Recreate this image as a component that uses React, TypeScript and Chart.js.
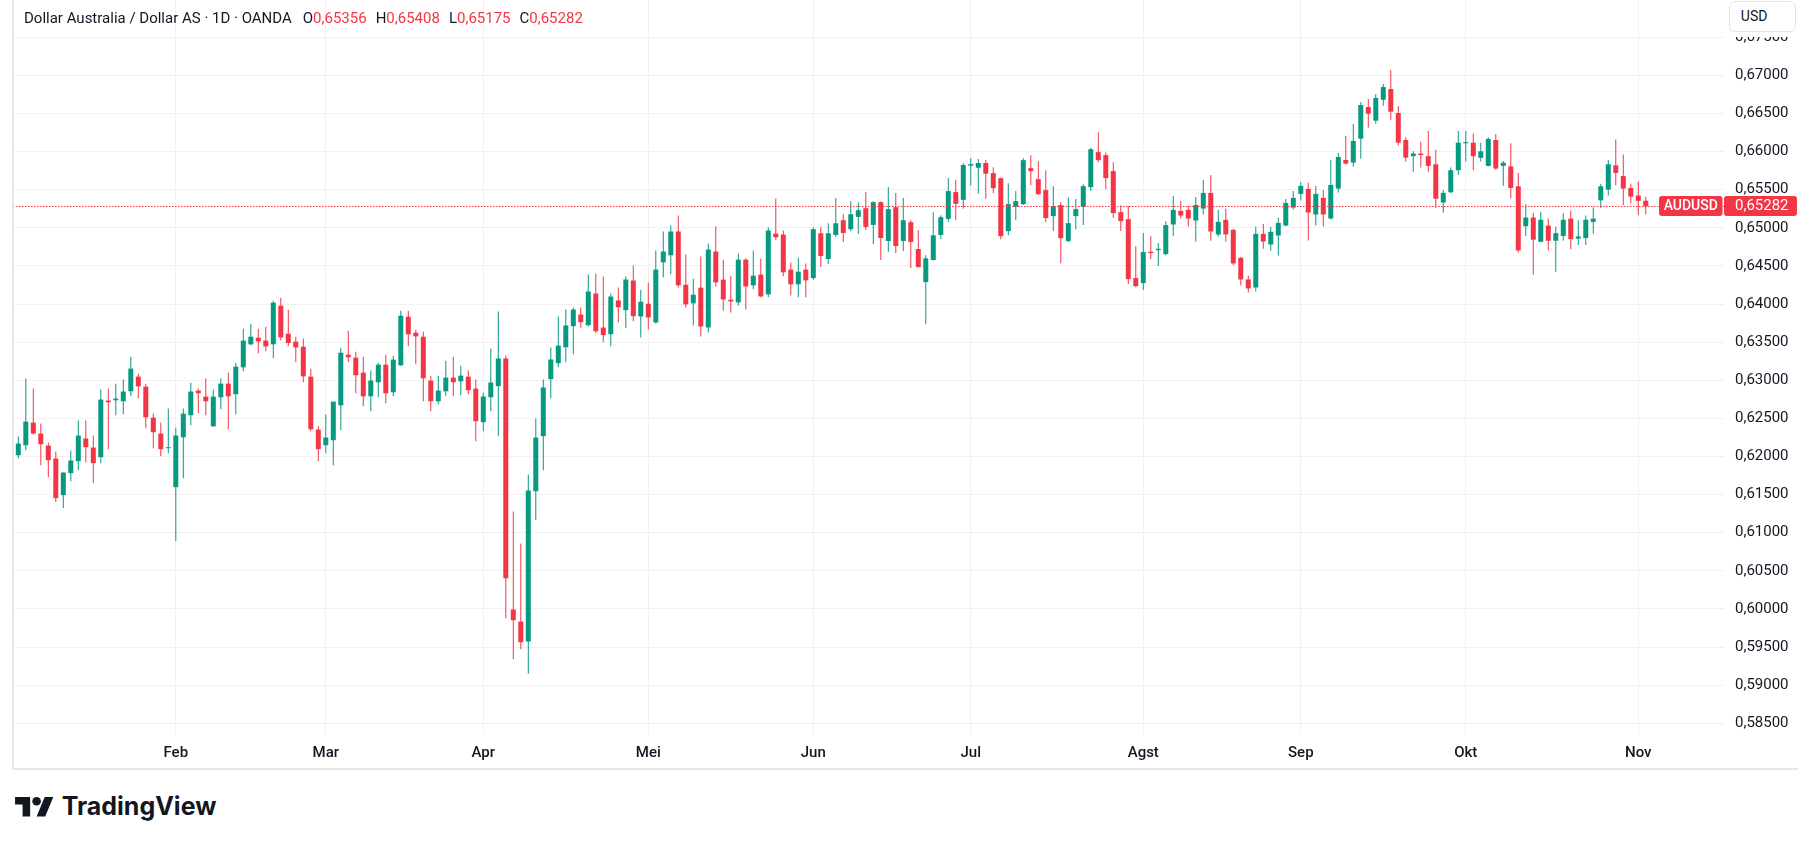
import React, { useEffect, useRef } from 'react';
import { Chart, registerables } from 'chart.js';

Chart.register(...registerables);

const UP = '#089981';
const DOWN = '#F23645';
const TEXT = '#131722';
const GRID = '#f1f1f2';
const BORDER = '#e6e6e8';

// OHLC per trading day: [open, high, low, close]
const jan: number[][] = [
  [0.62017, 0.62262, 0.61978, 0.6217],
  [0.62148, 0.63022, 0.62083, 0.62458],
  [0.62445, 0.62891, 0.62288, 0.62301],
  [0.62301, 0.62432, 0.61886, 0.62162],
  [0.62144, 0.62183, 0.61729, 0.61952],
  [0.61974, 0.62065, 0.61402, 0.61454],
  [0.61493, 0.6179, 0.61323, 0.6179],
  [0.61782, 0.62079, 0.61677, 0.61948],
  [0.61939, 0.62472, 0.61821, 0.62275],
  [0.62236, 0.62472, 0.61926, 0.62122],
  [0.62118, 0.62275, 0.61651, 0.61913],
  [0.61991, 0.62878, 0.61913, 0.62747],
  [0.62734, 0.62891, 0.62096, 0.62712],
  [0.62738, 0.62956, 0.62541, 0.6276],
  [0.62725, 0.63009, 0.62555, 0.62852],
  [0.62856, 0.6331, 0.6279, 0.63153],
  [0.63048, 0.63087, 0.62764, 0.62921],
  [0.62917, 0.62956, 0.62371, 0.62515],
  [0.62511, 0.62563, 0.62109, 0.62319],
  [0.62301, 0.62445, 0.62004, 0.62096],
  [0.62109, 0.62629, 0.62044, 0.62122],
];
const feb: number[][] = [
  [0.61598, 0.62376, 0.60891, 0.62275],
  [0.62253, 0.62629, 0.61716, 0.62563],
  [0.62541, 0.62969, 0.6241, 0.62852],
  [0.62865, 0.62891, 0.62568, 0.6283],
  [0.62786, 0.63022, 0.62541, 0.62725],
  [0.62397, 0.62878, 0.6239, 0.62786],
  [0.62777, 0.63022, 0.6262, 0.62956],
  [0.62956, 0.631, 0.62358, 0.6279],
  [0.62817, 0.63231, 0.62555, 0.63179],
  [0.6317, 0.63677, 0.63118, 0.6352],
  [0.63472, 0.63742, 0.6346, 0.63572],
  [0.63559, 0.63677, 0.63354, 0.63511],
  [0.6352, 0.63703, 0.6338, 0.63445],
  [0.63472, 0.64044, 0.63288, 0.64018],
  [0.63978, 0.64083, 0.63524, 0.63563],
  [0.63611, 0.63926, 0.63445, 0.63489],
  [0.63507, 0.63572, 0.63236, 0.63432],
  [0.63441, 0.63546, 0.62974, 0.63052],
  [0.63048, 0.63153, 0.62332, 0.62358],
  [0.62354, 0.62397, 0.61939, 0.62096],
];
const mar: number[][] = [
  [0.62148, 0.6255, 0.62044, 0.62249],
  [0.62214, 0.6272, 0.61886, 0.6272],
  [0.62672, 0.63428, 0.62345, 0.63362],
  [0.63336, 0.63651, 0.63236, 0.63301],
  [0.63297, 0.63376, 0.6283, 0.63066],
  [0.631, 0.6331, 0.62659, 0.6279],
  [0.6279, 0.63127, 0.62594, 0.62996],
  [0.62974, 0.63231, 0.62777, 0.63205],
  [0.63205, 0.63336, 0.62699, 0.6283],
  [0.62843, 0.63323, 0.6279, 0.63271],
  [0.63197, 0.63913, 0.6319, 0.63847],
  [0.63834, 0.63913, 0.63445, 0.63603],
  [0.63624, 0.63664, 0.6321, 0.63576],
  [0.63572, 0.63638, 0.62725, 0.63026],
  [0.62996, 0.63061, 0.62594, 0.62725],
  [0.62725, 0.63061, 0.62686, 0.62865],
  [0.62856, 0.63258, 0.6279, 0.63035],
  [0.63035, 0.6331, 0.6279, 0.62974],
  [0.62987, 0.63192, 0.62803, 0.63061],
  [0.63048, 0.63127, 0.62817, 0.62869],
  [0.62891, 0.63009, 0.62201, 0.62463],
];
const apr: number[][] = [
  [0.6245, 0.6284, 0.62332, 0.62787],
  [0.62778, 0.63417, 0.62595, 0.62971],
  [0.62923, 0.63902, 0.62267, 0.63286],
  [0.63286, 0.63325, 0.59879, 0.60404],
  [0.59993, 0.61279, 0.59341, 0.59853],
  [0.59835, 0.60859, 0.59473, 0.59564],
  [0.59573, 0.61764, 0.59149, 0.61554],
  [0.61545, 0.62499, 0.61165, 0.62249],
  [0.62267, 0.6301, 0.61821, 0.62905],
  [0.63015, 0.6343, 0.62765, 0.63273],
  [0.63225, 0.63837, 0.63172, 0.63456],
  [0.63434, 0.63929, 0.63238, 0.63719],
  [0.6371, 0.63955, 0.63343, 0.63929],
  [0.63863, 0.63955, 0.63684, 0.63762],
  [0.63723, 0.64388, 0.63706, 0.64165],
  [0.64138, 0.64401, 0.63618, 0.63644],
  [0.63692, 0.64362, 0.635, 0.63592],
  [0.63605, 0.64138, 0.63448, 0.64099],
  [0.64047, 0.64217, 0.63762, 0.63959],
  [0.6392, 0.64362, 0.63684, 0.64322],
  [0.64309, 0.64506, 0.63776, 0.63841],
  [0.63838, 0.64189, 0.63561, 0.64031],
];
const may: number[][] = [
  [0.64004, 0.64281, 0.63667, 0.63825],
  [0.63759, 0.64702, 0.63746, 0.64452],
  [0.64548, 0.64952, 0.64351, 0.64689],
  [0.6464, 0.65031, 0.6439, 0.64952],
  [0.64952, 0.65162, 0.64219, 0.64246],
  [0.64254, 0.64649, 0.63956, 0.63996],
  [0.64009, 0.64333, 0.63719, 0.64123],
  [0.64215, 0.64623, 0.63575, 0.63706],
  [0.63693, 0.64794, 0.63627, 0.64715],
  [0.64689, 0.65018, 0.64232, 0.64285],
  [0.6432, 0.64583, 0.63917, 0.64061],
  [0.64057, 0.64373, 0.6389, 0.64035],
  [0.64022, 0.64662, 0.63982, 0.64583],
  [0.64583, 0.64601, 0.6393, 0.64232],
  [0.64246, 0.64702, 0.64193, 0.64373],
  [0.64386, 0.64596, 0.64088, 0.64101],
  [0.64127, 0.65004, 0.64088, 0.64965],
  [0.64925, 0.65386, 0.64838, 0.64877],
  [0.64912, 0.64965, 0.64364, 0.64417],
  [0.64452, 0.64544, 0.64114, 0.64259],
  [0.64259, 0.6461, 0.64088, 0.64425],
  [0.64452, 0.64531, 0.64088, 0.64311],
];
const jun: number[][] = [
  [0.64341, 0.65008, 0.6432, 0.64982],
  [0.64929, 0.65008, 0.64485, 0.6463],
  [0.64591, 0.6506, 0.64525, 0.64929],
  [0.64907, 0.6539, 0.64881, 0.6506],
  [0.651, 0.65179, 0.64815, 0.64933],
  [0.64982, 0.6535, 0.64955, 0.65179],
  [0.65144, 0.65337, 0.6492, 0.65232],
  [0.65258, 0.65469, 0.64973, 0.65012],
  [0.65039, 0.6535, 0.64788, 0.65337],
  [0.65337, 0.6535, 0.64578, 0.64867],
  [0.64828, 0.65535, 0.64683, 0.65245],
  [0.65271, 0.65456, 0.6467, 0.64762],
  [0.64828, 0.6539, 0.64696, 0.651],
  [0.65074, 0.651, 0.64472, 0.64815],
  [0.64722, 0.64968, 0.6448, 0.64485],
  [0.64288, 0.64639, 0.63735, 0.646],
  [0.64578, 0.65205, 0.6457, 0.64902],
  [0.64907, 0.65166, 0.64854, 0.6514],
  [0.65118, 0.65653, 0.65078, 0.65482],
  [0.65469, 0.65627, 0.65104, 0.65315],
  [0.65368, 0.65851, 0.65249, 0.65824],
];
const jul: number[][] = [
  [0.65816, 0.65917, 0.65552, 0.65837],
  [0.65789, 0.65903, 0.65447, 0.65851],
  [0.65851, 0.6589, 0.65381, 0.6571],
  [0.65718, 0.65796, 0.65455, 0.65521],
  [0.65652, 0.6566, 0.64852, 0.64891],
  [0.64957, 0.65586, 0.64904, 0.65311],
  [0.65276, 0.65482, 0.65101, 0.6535],
  [0.65311, 0.65914, 0.653, 0.65888],
  [0.65783, 0.65954, 0.6556, 0.65744],
  [0.65639, 0.65875, 0.65429, 0.65442],
  [0.65495, 0.65757, 0.65075, 0.65128],
  [0.65154, 0.65547, 0.64957, 0.65285],
  [0.65298, 0.65337, 0.64537, 0.64865],
  [0.64826, 0.65403, 0.64813, 0.65062],
  [0.65154, 0.65377, 0.64983, 0.65245],
  [0.65276, 0.65573, 0.65036, 0.65547],
  [0.65534, 0.6605, 0.65482, 0.66032],
  [0.65993, 0.66255, 0.65862, 0.65888],
  [0.65954, 0.65993, 0.65508, 0.65652],
  [0.65744, 0.65862, 0.65128, 0.65193],
  [0.65206, 0.65298, 0.64957, 0.65088],
  [0.65114, 0.65285, 0.64262, 0.64327],
  [0.64341, 0.6476, 0.6422, 0.64236],
];
const aug: number[][] = [
  [0.64275, 0.64931, 0.64183, 0.64682],
  [0.64686, 0.64891, 0.6459, 0.64669],
  [0.64708, 0.648, 0.64498, 0.64725],
  [0.64655, 0.65088, 0.6464, 0.65036],
  [0.65044, 0.65419, 0.64895, 0.65236],
  [0.65223, 0.65354, 0.65122, 0.65161],
  [0.65236, 0.65288, 0.65017, 0.65122],
  [0.65096, 0.65406, 0.64817, 0.65301],
  [0.65253, 0.65629, 0.65175, 0.65458],
  [0.65458, 0.65694, 0.6483, 0.64952],
  [0.64913, 0.65236, 0.64886, 0.65079],
  [0.65105, 0.65249, 0.64821, 0.64913],
  [0.64974, 0.64987, 0.64506, 0.64533],
  [0.64607, 0.6462, 0.64244, 0.64323],
  [0.64323, 0.64371, 0.64153, 0.64205],
  [0.64218, 0.65013, 0.64166, 0.64921],
  [0.64921, 0.65052, 0.64725, 0.64821],
  [0.64782, 0.65013, 0.64699, 0.64948],
  [0.649, 0.65131, 0.64638, 0.65065],
  [0.65031, 0.6538, 0.6502, 0.65327],
  [0.65266, 0.65485, 0.6524, 0.65393],
];
const sep: number[][] = [
  [0.65445, 0.65603, 0.65358, 0.6555],
  [0.65511, 0.6559, 0.64834, 0.65201],
  [0.65175, 0.6555, 0.65031, 0.65445],
  [0.65393, 0.65498, 0.65017, 0.65175],
  [0.65122, 0.65891, 0.6511, 0.65563],
  [0.65515, 0.65983, 0.65463, 0.6593],
  [0.65891, 0.66205, 0.6583, 0.65843],
  [0.65856, 0.66362, 0.65803, 0.6614],
  [0.6617, 0.66651, 0.65908, 0.66611],
  [0.66585, 0.6669, 0.66314, 0.66498],
  [0.66406, 0.66756, 0.66367, 0.66703],
  [0.66681, 0.66887, 0.66603, 0.66847],
  [0.66821, 0.6707, 0.66419, 0.66524],
  [0.66507, 0.66598, 0.66079, 0.66118],
  [0.66153, 0.66192, 0.65869, 0.65921],
  [0.6594, 0.66004, 0.65735, 0.65975],
  [0.65975, 0.66131, 0.65792, 0.65954],
  [0.6594, 0.66272, 0.65735, 0.65813],
  [0.65834, 0.66025, 0.65262, 0.65382],
  [0.65333, 0.65495, 0.65198, 0.6546],
  [0.65467, 0.65792, 0.65453, 0.65756],
  [0.65756, 0.66272, 0.65693, 0.66117],
];
const oct: number[][] = [
  [0.6611, 0.66272, 0.6587, 0.66125],
  [0.66117, 0.66237, 0.65756, 0.6594],
  [0.65919, 0.66117, 0.6587, 0.66004],
  [0.65813, 0.66187, 0.65806, 0.66166],
  [0.66152, 0.6623, 0.65763, 0.65778],
  [0.65813, 0.65877, 0.65552, 0.65855],
  [0.65806, 0.6611, 0.65389, 0.65523],
  [0.65545, 0.65721, 0.64675, 0.64704],
  [0.65022, 0.65311, 0.64894, 0.65135],
  [0.65135, 0.65198, 0.64386, 0.64845],
  [0.64817, 0.65212, 0.6481, 0.65106],
  [0.65029, 0.65121, 0.64704, 0.64831],
  [0.64831, 0.65015, 0.64421, 0.6493],
  [0.64894, 0.65191, 0.64831, 0.65106],
  [0.65121, 0.65227, 0.64718, 0.64852],
  [0.64859, 0.65099, 0.64774, 0.64887],
  [0.64866, 0.65163, 0.64774, 0.65106],
  [0.65078, 0.65269, 0.64923, 0.65121],
  [0.65361, 0.6558, 0.65262, 0.65545],
  [0.65502, 0.65891, 0.65424, 0.65834],
  [0.6582, 0.66159, 0.65559, 0.65721],
  [0.65679, 0.65961, 0.65297, 0.65516],
  [0.65523, 0.6558, 0.65318, 0.6541],
];
const nov: number[][] = [
  [0.65424, 0.65608, 0.6517, 0.65354],
  [0.65356, 0.65408, 0.65175, 0.65282],
];

const monthLabels = ['Jan', 'Feb', 'Mar', 'Apr', 'Mei', 'Jun', 'Jul', 'Agst', 'Sep', 'Okt', 'Nov'];
const monthCandles = [jan, feb, mar, apr, may, jun, jul, aug, sep, oct, nov];
const priceTicks = [
  0.585, 0.59, 0.595, 0.6, 0.605, 0.61, 0.615, 0.62, 0.625, 0.63,
  0.635, 0.64, 0.645, 0.65, 0.655, 0.66, 0.665, 0.67, 0.675,
];
const symbol = 'AUDUSD';
const title = 'Dollar Australia / Dollar AS · 1D · OANDA';
const currency = 'USD';

const candles = monthCandles.flat();
const monthStarts: { index: number; label: string }[] = [];
{
  let acc = 0;
  monthCandles.forEach((m, k) => {
    if (k > 0) monthStarts.push({ index: acc, label: monthLabels[k] });
    acc += m.length;
  });
}
const last = candles[candles.length - 1];
const fmt = (v: number) => v.toFixed(5).replace('.', ',');
const colorOf = (c: number[]) => (c[3] >= c[0] ? UP : DOWN);

const lastPricePlugin = {
  id: 'lastPrice',
  afterDatasetsDraw(chart: any) {
    const { ctx, chartArea, scales } = chart;
    const y = Math.round(scales.y.getPixelForValue(last[3])) + 0.5;
    ctx.save();
    ctx.strokeStyle = DOWN;
    ctx.lineWidth = 1;
    ctx.setLineDash([1.5, 1.5]);
    ctx.beginPath();
    ctx.moveTo(chartArea.left, y);
    ctx.lineTo(chartArea.right, y);
    ctx.stroke();
    ctx.restore();
  },
  afterDraw(chart: any) {
    const { ctx, chartArea, scales } = chart;
    const yc = scales.y.getPixelForValue(last[3]);
    const h = 20;
    const top = Math.round(yc - h / 2);
    ctx.save();
    ctx.fillStyle = DOWN;
    const sx = chartArea.right - 65;
    ctx.beginPath();
    (ctx as any).roundRect(sx, top, 63.5, h, 3);
    ctx.fill();
    ctx.beginPath();
    (ctx as any).roundRect(chartArea.right, top, 73, h, 3);
    ctx.fill();
    ctx.fillStyle = '#ffffff';
    ctx.textBaseline = 'middle';
    ctx.font = '500 14px Roboto';
    ctx.textAlign = 'center';
    ctx.fillText(symbol, sx + 63.5 / 2, top + h / 2 + 0.5);
    ctx.font = '15px Roboto';
    ctx.textAlign = 'left';
    ctx.fillText(fmt(last[3]), chartArea.right + 11, top + h / 2 + 0.5);
    ctx.restore();
  },
};

export default function App() {
  const ref = useRef<HTMLCanvasElement>(null);

  useEffect(() => {
    if (!ref.current) return;
    const colors = candles.map(colorOf);
    const chart = new Chart(ref.current, {
      type: 'bar',
      data: {
        datasets: [
          {
            label: 'body',
            data: candles.map((c, i) => ({ x: i, y: [c[0], c[3]] })) as any,
            backgroundColor: colors,
            barThickness: 5,
            minBarLength: 1,
            grouped: false,
            borderWidth: 0,
            inflateAmount: 0,
            order: 0,
          } as any,
          {
            label: 'wick',
            data: candles.map((c, i) => ({ x: i, y: [c[2], c[1]] })) as any,
            backgroundColor: colors,
            barThickness: 1,
            grouped: false,
            borderWidth: 0,
            inflateAmount: 0,
            order: 1,
          } as any,
        ],
      },
      options: {
        responsive: false,
        animation: false,
        events: [],
        layout: { padding: { left: 13, top: 0, right: 0, bottom: 0 } },
        plugins: {
          legend: { display: false },
          tooltip: { enabled: false },
          title: { display: false },
        },
        scales: {
          x: {
            type: 'linear',
            min: -0.707,
            max: 227.43,
            offset: false,
            grid: { color: GRID, drawTicks: false, offset: false },
            border: { display: false },
            afterBuildTicks: (s: any) => {
              s.ticks = monthStarts.map((m) => ({ value: m.index }));
            },
            afterFit: (s: any) => {
              s.height = 36;
              s.paddingLeft = 0;
              s.paddingRight = 0;
            },
            ticks: {
              autoSkip: false,
              maxRotation: 0,
              padding: 10,
              color: TEXT,
              font: { family: 'Roboto', size: 15, weight: '500' },
              callback: (v: any) => monthStarts.find((m) => m.index === v)?.label ?? '',
            },
          } as any,
          y: {
            type: 'linear',
            position: 'right',
            min: 0.583596,
            max: 0.679892,
            beginAtZero: false,
            grid: { color: GRID, drawTicks: false },
            border: { display: false },
            afterBuildTicks: (s: any) => {
              s.ticks = priceTicks.map((v) => ({ value: v }));
            },
            afterFit: (s: any) => {
              s.width = 74;
              s.paddingTop = 0;
              s.paddingBottom = 0;
            },
            ticks: {
              padding: 11,
              color: TEXT,
              font: { family: 'Roboto', size: 15 },
              callback: (v: any) => fmt(Number(v)),
            },
          } as any,
        },
      },
      plugins: [lastPricePlugin],
    });
    return () => chart.destroy();
  }, []);

  const valStyle = { color: DOWN };
  const grp = { marginLeft: 9 };

  return (
    <div
      style={{
        position: 'fixed',
        left: 0,
        top: 0,
        width: 1798,
        height: 845,
        background: '#ffffff',
        overflow: 'hidden',
      }}
    >
      <canvas
        ref={ref}
        width={1798}
        height={770}
        style={{ position: 'absolute', left: 0, top: 0, width: 1798, height: 770 }}
      />
      <div style={{ position: 'absolute', left: 11.7, top: 0, width: 2, height: 770, background: BORDER }} />
      <div style={{ position: 'absolute', left: 11.7, top: 768.3, width: 1798 - 11.7, height: 2, background: BORDER }} />

      <div
        style={{
          position: 'absolute',
          left: 24,
          top: 8,
          fontFamily: 'Roboto',
          fontSize: 15,
          lineHeight: '20px',
          color: TEXT,
          whiteSpace: 'nowrap',
        }}
      >
        <span>{title}</span>
        <span style={{ marginLeft: 11 }}>O<span style={valStyle}>{fmt(last[0])}</span></span>
        <span style={grp}>H<span style={valStyle}>{fmt(last[1])}</span></span>
        <span style={grp}>L<span style={valStyle}>{fmt(last[2])}</span></span>
        <span style={grp}>C<span style={valStyle}>{fmt(last[3])}</span></span>
      </div>

      <div style={{ position: 'absolute', left: 1725, top: 0, width: 73, height: 37, background: '#ffffff' }} />
      <div
        style={{
          position: 'absolute',
          left: 1729.3,
          top: 0.7,
          width: 67,
          height: 31.6,
          boxSizing: 'border-box',
          border: '1px solid #e0e3eb',
          borderRadius: 6,
          background: '#ffffff',
          fontFamily: 'Roboto',
          fontSize: 14,
          lineHeight: '29.6px',
          paddingLeft: 10.5,
          color: TEXT,
        }}
      >
        {currency}
      </div>

      <svg
        style={{ position: 'absolute', left: 15.3, top: 797.3 }}
        width={38.9}
        height={19.4}
        viewBox="0 4 36 18"
      >
        <path d="M14 22H7V11H0V4h14v18z" fill={TEXT} />
        <path d="M28 22h-8l7.5-18h8L28 22z" fill={TEXT} />
        <circle cx={20} cy={8} r={4} fill={TEXT} />
      </svg>
      <div
        style={{
          position: 'absolute',
          left: 61.7,
          top: 794,
          fontFamily: 'Inter',
          fontWeight: 700,
          fontSize: 25,
          lineHeight: '24px',
          color: TEXT,
          letterSpacing: 0,
          whiteSpace: 'nowrap',
        }}
      >
        TradingView
      </div>
    </div>
  );
}
